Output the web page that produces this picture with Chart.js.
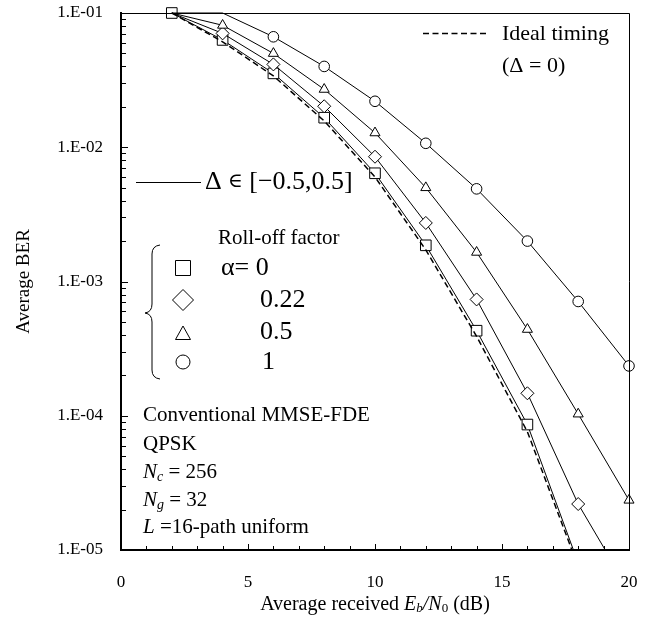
<!DOCTYPE html>
<html>
<head>
<meta charset="utf-8">
<script src="https://cdn.jsdelivr.net/npm/chart.js@4.4.0/dist/chart.umd.min.js"></script>
<style>
  html, body { margin: 0; padding: 0; background: #fff; }
</style>
</head>
<body>
<canvas id="ber-chart" width="654" height="626"></canvas>
<script>
// Eb/N0 (dB) where the curves were sampled
var ebn0 = [2, 4, 6, 8, 10, 12, 14, 16, 18, 20];

// average BER, timing offset in [-0.5, 0.5], per roll-off factor
var berAlpha0 = [0.1, 0.063, 0.0355, 0.0166, 0.0064, 0.00186, 0.00043, 0.000086, 0.000008, null];
var berAlpha022 = [0.1, 0.0705, 0.0414, 0.0202, 0.0085, 0.00273, 0.000735, 0.000147, 0.000022, 0.000005];
var berAlpha05 = [0.1, 0.081, 0.050, 0.027, 0.0128, 0.0050, 0.00165, 0.00044, 0.000103, 0.0000235];
var berAlpha1 = [0.1, 0.1, 0.0665, 0.040, 0.022, 0.0107, 0.0049, 0.0020, 0.00071, 0.000235];
// ideal timing (delta = 0)
var berIdeal = [0.1, 0.061, 0.034, 0.0157, 0.0060, 0.00172, 0.00039, 0.000076, 0.0000075, null];

var xTickLabels = ['0', '5', '10', '15', '20'];
var yTickLabels = ['1.E-05', '1.E-04', '1.E-03', '1.E-02', '1.E-01'];

var SERIF = '"Liberation Serif", "DejaVu Serif", serif';

function toPoints(values) {
    var pts = [];
    for (var i = 0; i < ebn0.length; i++) {
        if (values[i] !== null) pts.push({ x: ebn0[i], y: values[i] });
    }
    return pts;
}

// markers are not shown where a curve sits on the top border (except the square one)
function markerSizes(values, r, always) {
    return values.filter(function(v) { return v !== null; }).map(function(v) {
        return (!always && v >= 0.1) ? 0 : r;
    });
}

function curve(label, values, style, r, always) {
    return {
        label: label,
        data: toPoints(values),
        borderColor: '#000',
        borderWidth: 1,
        backgroundColor: '#fff',
        pointStyle: style,
        pointRadius: markerSizes(values, r, always),
        pointBorderColor: '#000',
        pointBorderWidth: 1,
        pointBackgroundColor: '#fff',
        tension: 0,
        clip: { left: 10, top: 10, right: 10, bottom: 0 }
    };
}

function drawRich(ctx, parts, x, y, align) {
    var total = 0;
    parts.forEach(function(p) {
        ctx.font = p.f;
        p.w = ctx.measureText(p.t).width;
        total += p.w;
    });
    var cx = align === 'center' ? x - total / 2 : x;
    ctx.textAlign = 'left';
    ctx.textBaseline = 'middle';
    parts.forEach(function(p) {
        ctx.font = p.f;
        ctx.fillText(p.t, cx, y + (p.dy || 0));
        cx += p.w;
    });
}

var decorations = {
    id: 'decorations',
    afterDraw: function(chart) {
        var ctx = chart.ctx;
        var a = chart.chartArea;
        var xs = chart.scales.x;
        var ys = chart.scales.y;
        ctx.save();
        ctx.strokeStyle = '#000';
        ctx.fillStyle = '#000';

        // top and right frame
        ctx.lineWidth = 1;
        ctx.beginPath();
        ctx.moveTo(a.left, a.top + 0.5);
        ctx.lineTo(a.right + 0.5, a.top + 0.5);
        ctx.lineTo(a.right + 0.5, a.bottom);
        ctx.stroke();

        // inward tick marks
        ctx.beginPath();
        for (var v = 1; v < 20; v++) {
            var px = Math.round(xs.getPixelForValue(v)) + 0.5;
            var len = v % 5 === 0 ? 6 : 4;
            ctx.moveTo(px, a.bottom);
            ctx.lineTo(px, a.bottom - len);
        }
        for (var d = -5; d <= -2; d++) {
            for (var m = 1; m <= 9; m++) {
                var py = Math.round(ys.getPixelForValue(m * Math.pow(10, d))) + 0.5;
                var l = m === 1 ? 7 : 5;
                ctx.moveTo(a.left, py);
                ctx.lineTo(a.left + l, py);
            }
        }
        ctx.stroke();

        // x axis title
        drawRich(ctx, [
            { t: 'Average received ', f: '20px ' + SERIF },
            { t: 'E', f: 'italic 20px ' + SERIF },
            { t: 'b', f: 'italic 13px ' + SERIF, dy: 4 },
            { t: '/', f: 'italic 20px ' + SERIF },
            { t: 'N', f: 'italic 20px ' + SERIF },
            { t: '0', f: '13px ' + SERIF, dy: 4 },
            { t: ' (dB)', f: '20px ' + SERIF }
        ], (a.left + a.right) / 2, 605, 'center');

        // ideal timing key
        ctx.lineWidth = 1.5;
        ctx.setLineDash([6, 3.5]);
        ctx.beginPath();
        ctx.moveTo(423, 33.5);
        ctx.lineTo(488, 33.5);
        ctx.stroke();
        ctx.setLineDash([]);
        drawRich(ctx, [{ t: 'Ideal timing', f: '22px ' + SERIF }], 502, 34, 'left');
        drawRich(ctx, [{ t: '(\u0394 = 0)', f: '22px ' + SERIF }], 502, 66, 'left');

        // timing offset key
        ctx.lineWidth = 1;
        ctx.beginPath();
        ctx.moveTo(136, 182.5);
        ctx.lineTo(201, 182.5);
        ctx.stroke();
        drawRich(ctx, [
            { t: '\u0394', f: '26px ' + SERIF },
            { t: ' \u2208 ', f: '20px "DejaVu Serif", serif' },
            { t: '[\u22120.5,0.5]', f: '26px ' + SERIF }
        ], 205, 182, 'left');

        // roll-off key
        drawRich(ctx, [{ t: 'Roll-off factor', f: '21px ' + SERIF }], 218, 238, 'left');
        ctx.beginPath();
        ctx.moveTo(160, 245);
        ctx.quadraticCurveTo(152, 246, 152, 254);
        ctx.lineTo(152, 304);
        ctx.quadraticCurveTo(152, 312, 145, 313);
        ctx.quadraticCurveTo(152, 314, 152, 322);
        ctx.lineTo(152, 370);
        ctx.quadraticCurveTo(152, 378, 160, 379);
        ctx.stroke();

        var kx = 183;
        ctx.fillStyle = '#fff';
        ctx.beginPath();
        ctx.rect(kx - 7.5, 268 - 7.5, 15, 15);
        ctx.fill(); ctx.stroke();
        ctx.beginPath();
        ctx.moveTo(kx - 10.5, 300); ctx.lineTo(kx, 289.5); ctx.lineTo(kx + 10.5, 300); ctx.lineTo(kx, 310.5); ctx.closePath();
        ctx.fill(); ctx.stroke();
        ctx.beginPath();
        ctx.moveTo(kx - 7.5, 339.5); ctx.lineTo(kx, 326); ctx.lineTo(kx + 7.5, 339.5); ctx.closePath();
        ctx.fill(); ctx.stroke();
        ctx.beginPath();
        ctx.arc(kx, 362, 7, 0, Math.PI * 2);
        ctx.fill(); ctx.stroke();
        ctx.fillStyle = '#000';
        drawRich(ctx, [{ t: '\u03b1= 0', f: '26px ' + SERIF }], 221, 268, 'left');
        drawRich(ctx, [{ t: '0.22', f: '26px ' + SERIF }], 260, 300, 'left');
        drawRich(ctx, [{ t: '0.5', f: '26px ' + SERIF }], 260, 332, 'left');
        drawRich(ctx, [{ t: '1', f: '26px ' + SERIF }], 262, 362, 'left');

        // system parameters
        var f21 = '21px ' + SERIF;
        var i21 = 'italic 21px ' + SERIF;
        var i14 = 'italic 14px ' + SERIF;
        drawRich(ctx, [{ t: 'Conventional MMSE-FDE', f: f21 }], 143, 415, 'left');
        drawRich(ctx, [{ t: 'QPSK', f: f21 }], 143, 444, 'left');
        drawRich(ctx, [{ t: 'N', f: i21 }, { t: 'c', f: i14, dy: 5 }, { t: ' = 256', f: f21 }], 143, 472, 'left');
        drawRich(ctx, [{ t: 'N', f: i21 }, { t: 'g', f: i14, dy: 5 }, { t: ' = 32', f: f21 }], 143, 500, 'left');
        drawRich(ctx, [{ t: 'L', f: i21 }, { t: ' =16-path uniform', f: f21 }], 143, 527, 'left');

        ctx.restore();
    }
};

new Chart(document.getElementById('ber-chart'), {
    type: 'line',
    data: {
        datasets: [
            {
                label: 'Ideal timing',
                data: toPoints(berIdeal),
                borderColor: '#000',
                borderWidth: 1.5,
                borderDash: [6, 3.5],
                pointRadius: 0,
                tension: 0,
                clip: { left: 10, top: 10, right: 10, bottom: 0 }
            },
            curve('\u03b1 = 1', berAlpha1, 'circle', 5.3, false),
            curve('\u03b1 = 0.5', berAlpha05, 'triangle', 5.8, false),
            curve('\u03b1 = 0.22', berAlpha022, 'rectRot', 6.5, false),
            curve('\u03b1 = 0', berAlpha0, 'rect', 7.5, true)
        ]
    },
    options: {
        responsive: false,
        animation: false,
        devicePixelRatio: 1,
        layout: { padding: { top: 13, right: 25, left: 0, bottom: 0 } },
        plugins: {
            legend: { display: false },
            tooltip: { enabled: false }
        },
        scales: {
            x: {
                type: 'linear',
                min: 0,
                max: 20,
                afterBuildTicks: function(scale) {
                    scale.ticks = xTickLabels.map(function(t) { return { value: Number(t) }; });
                },
                ticks: {
                    color: '#000',
                    font: { family: SERIF, size: 17 },
                    padding: 22,
                    maxRotation: 0,
                    callback: function(value, index) { return xTickLabels[index]; }
                },
                grid: { display: false, drawTicks: false },
                border: { display: true, color: '#000', width: 2 },
                afterFit: function(scale) {
                    scale.height = 76;
                    scale.paddingLeft = 0;
                    scale.paddingRight = 0;
                }
            },
            y: {
                type: 'logarithmic',
                min: 1e-5,
                max: 1e-1,
                afterBuildTicks: function(scale) {
                    scale.ticks = yTickLabels.map(function(t, i) { return { value: Math.pow(10, i - 5) }; });
                },
                ticks: {
                    color: '#000',
                    font: { family: SERIF, size: 17 },
                    padding: 18,
                    callback: function(value, index) { return yTickLabels[index]; }
                },
                grid: { display: false, drawTicks: false },
                border: { display: true, color: '#000', width: 2 },
                title: {
                    display: true,
                    text: 'Average BER',
                    color: '#000',
                    font: { family: SERIF, size: 19 },
                    padding: { top: 13, bottom: 0 }
                },
                afterFit: function(scale) {
                    scale.width = 121;
                    scale.paddingTop = 0;
                    scale.paddingBottom = 0;
                }
            }
        }
    },
    plugins: [decorations]
});
</script>
</body>
</html>
